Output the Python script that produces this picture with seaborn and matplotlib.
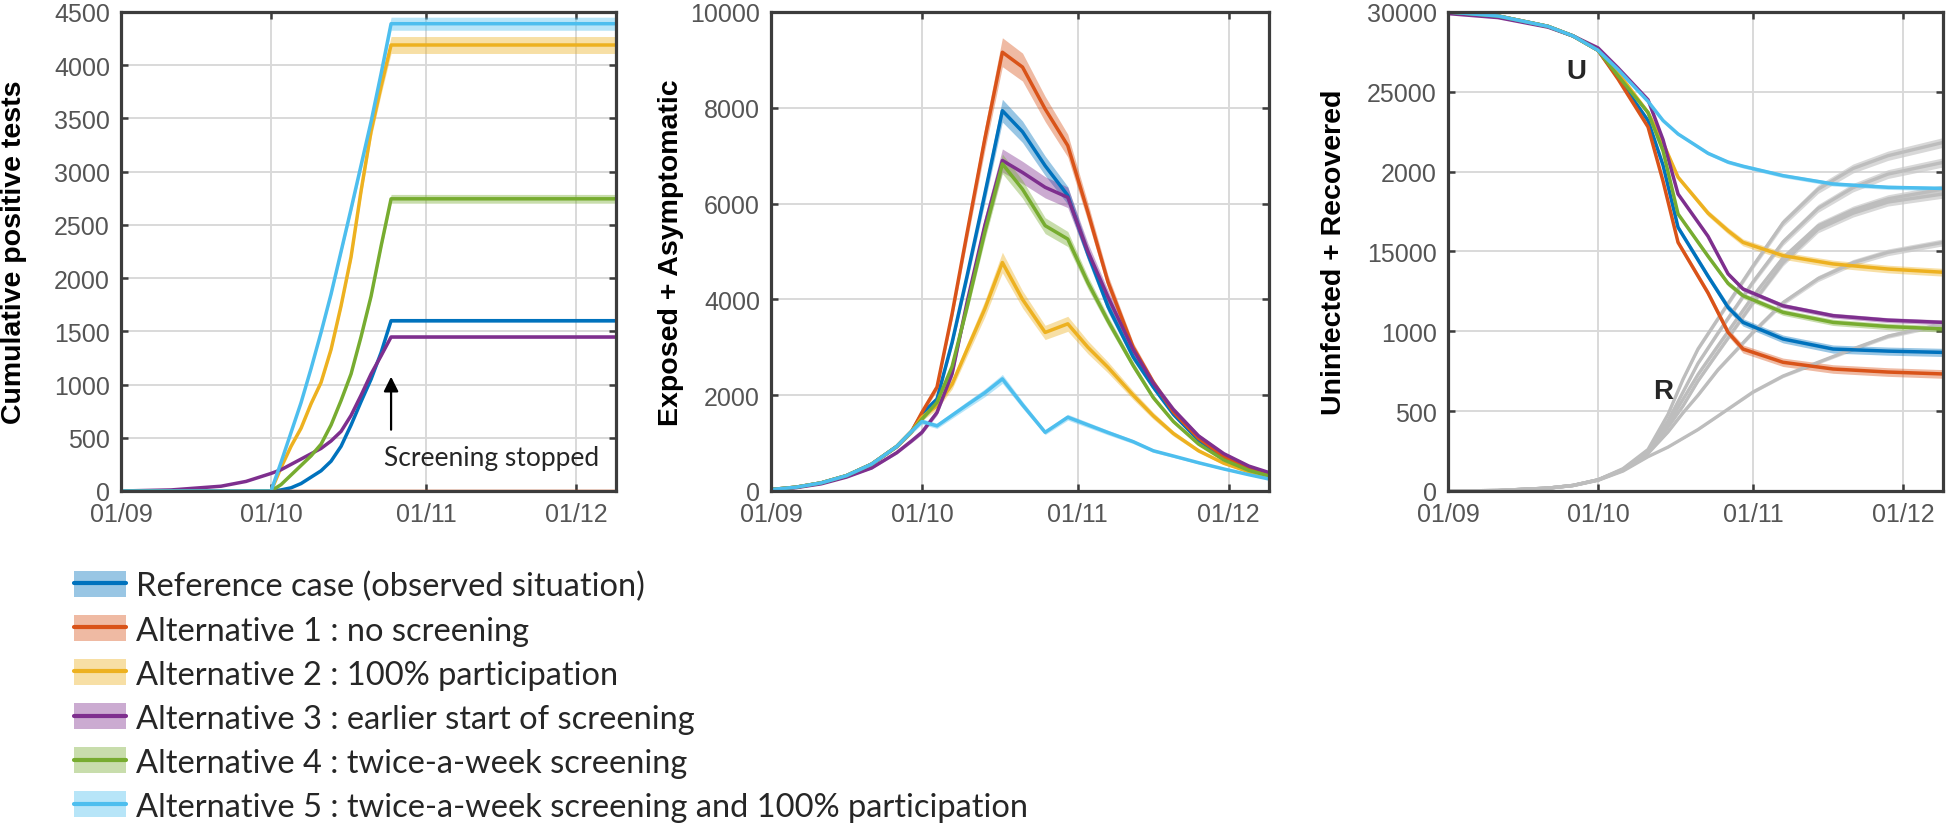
import seaborn as sns, numpy as np, pandas as pd, matplotlib.pyplot as plt
from matplotlib.patches import Patch
from matplotlib.lines import Line2D

sns.set_style('ticks')
plt.rcParams['font.family'] = ['Liberation Sans', 'DejaVu Sans']

# scenarios and colours (matlab default order)
scenarios = ['Reference case (observed situation)',
             'Alternative 1 : no screening',
             'Alternative 2 : 100% participation',
             'Alternative 3 : earlier start of screening',
             'Alternative 4 : twice-a-week screening',
             'Alternative 5 : twice-a-week screening and 100% participation']
colors = ['#0072BD', '#D95319', '#EDB120', '#7E2F8E', '#77AC30', '#4DBEEE']

date_ticks = [0, 30, 61, 91]
date_labels = ['01/09', '01/10', '01/11', '01/12']

# panel 1 : cumulative positive tests (days since 01/09)
days_tests = [0, 10, 20, 25, 30, 32, 34, 36, 38, 40, 42, 44, 46, 48, 50, 52, 54, 99]
tests_ref  = [0, 0, 0, 0, 0, 10, 30, 70, 130, 190, 280, 420, 620, 840, 1050, 1300, 1600, 1600]
tests_alt1 = [0] * 18
tests_alt2 = [0, 0, 0, 0, 0, 220, 420, 590, 820, 1020, 1330, 1740, 2200, 2820, 3380, 3800, 4190, 4190]
tests_alt3 = [0, 10, 45, 90, 165, 200, 250, 300, 350, 400, 470, 560, 710, 900, 1100, 1270, 1447, 1447]
tests_alt4 = [0, 0, 0, 0, 0, 60, 150, 240, 330, 440, 620, 850, 1100, 1450, 1830, 2300, 2745, 2745]
tests_alt5 = [0, 0, 0, 0, 0, 270, 550, 830, 1150, 1490, 1850, 2250, 2650, 3060, 3470, 3920, 4390, 4390]
tests_spread = [0.01, 0.0, 0.019, 0.01, 0.015, 0.014]

# panel 2 : exposed + asymptomatic
days_ea = [0, 5, 10, 15, 20, 25, 28, 30, 33, 36, 39, 42.5, 46, 50, 54.5, 59, 63, 67, 72, 76, 80, 85, 90, 95, 99]
ea_ref  = [30, 80, 170, 320, 560, 930, 1250, 1610, 1920, 3100, 4500, 6200, 7940, 7500, 6790, 6170, 4950, 3850, 2800, 2170, 1600, 1060, 700, 460, 330]
ea_alt1 = [30, 80, 170, 320, 560, 930, 1250, 1640, 2170, 3700, 5400, 7350, 9160, 8850, 7975, 7210, 5820, 4360, 3000, 2270, 1650, 1100, 720, 480, 350]
ea_alt2 = [30, 80, 170, 320, 560, 930, 1250, 1540, 1780, 2230, 2960, 3800, 4770, 4000, 3310, 3490, 3000, 2580, 2000, 1570, 1200, 840, 580, 400, 295]
ea_alt3 = [25, 70, 150, 290, 480, 800, 1050, 1225, 1640, 2450, 3950, 5540, 6900, 6650, 6340, 6130, 5000, 4050, 2950, 2250, 1700, 1150, 780, 520, 385]
ea_alt4 = [30, 80, 170, 320, 560, 930, 1250, 1500, 1850, 2600, 3850, 5400, 6830, 6300, 5540, 5260, 4350, 3550, 2620, 1950, 1450, 980, 650, 430, 315]
ea_alt5 = [30, 80, 170, 320, 560, 930, 1250, 1450, 1360, 1580, 1800, 2050, 2340, 1800, 1225, 1540, 1380, 1220, 1030, 840, 730, 590, 460, 340, 250]
ea_spread = [0.03, 0.033, 0.045, 0.035, 0.03, 0.04]

# panel 3 : uninfected (U, coloured) and recovered (R, grey)
days_u = [0, 10, 20, 25, 30, 34, 40, 43, 46, 52, 56, 59, 67, 77, 88, 99]
u_ref  = [30000, 29750, 29100, 28500, 27600, 25900, 23200, 20400, 16510, 13450, 11500, 10560, 9520, 8890, 8760, 8680]
u_alt1 = [30000, 29750, 29100, 28500, 27600, 25800, 22800, 19400, 15570, 12400, 9940, 8890, 8060, 7640, 7450, 7330]
u_alt2 = [30000, 29750, 29100, 28500, 27600, 26200, 23700, 21800, 19650, 17400, 16300, 15570, 14740, 14220, 13900, 13700]
u_alt3 = [29900, 29650, 29050, 28500, 27750, 26500, 24500, 22000, 18600, 15950, 13600, 12650, 11600, 10980, 10700, 10560]
u_alt4 = [30000, 29750, 29100, 28500, 27600, 26000, 23700, 21300, 17350, 14700, 13000, 12230, 11190, 10560, 10300, 10150]
u_alt5 = [30000, 29750, 29100, 28500, 27600, 26400, 24400, 23200, 22360, 21150, 20600, 20340, 19750, 19230, 19020, 18950]
u_spread = [0.012, 0.012, 0.015, 0.008, 0.01, 0.012]

days_r = [0, 10, 20, 25, 30, 35, 40, 44, 47, 50, 54, 61, 67, 74, 81, 88, 99]
r_ref  = [0, 30, 180, 350, 700, 1350, 2500, 4400, 6200, 8000, 9900, 13100, 15600, 17700, 19000, 19850, 20580]
r_alt1 = [0, 30, 180, 350, 700, 1400, 2600, 4800, 7000, 8900, 10800, 14100, 16800, 18900, 20200, 21000, 21830]
r_alt2 = [0, 30, 180, 350, 700, 1300, 2350, 3700, 4900, 6000, 7600, 9950, 11800, 13300, 14300, 14950, 15570]
r_alt3 = [0, 30, 180, 340, 680, 1300, 2400, 4000, 5330, 6900, 8700, 11800, 14300, 16400, 17400, 18100, 18600]
r_alt4 = [0, 30, 180, 350, 700, 1350, 2450, 4200, 5750, 7300, 9100, 12200, 14600, 16600, 17600, 18300, 18910]
r_alt5 = [0, 30, 180, 340, 670, 1250, 2150, 2750, 3300, 3850, 4700, 6200, 7200, 8060, 8900, 9700, 10460]
r_spread = 0.014


def long_df(days, series):
    rows = [(d, v, s) for s, vals in zip(scenarios, series) for d, v in zip(days, vals)]
    return pd.DataFrame(rows, columns=['day', 'value', 'scenario'])


def draw_panel(ax, days, series, spread, base=0):
    df = long_df(days, series)
    for vals, c, sp in zip(series, colors, spread):
        v = np.array(vals, dtype=float)
        half = sp * np.abs(v - base)
        ax.fill_between(days, v - half, v + half, color=c, alpha=0.4, lw=0)
    sns.lineplot(data=df, x='day', y='value', hue='scenario', hue_order=scenarios,
                 palette=colors, lw=2.5, legend=False, ax=ax, sort=False)


def style_axes(ax, ymax, yticks, ylabels, ylabel, labelx):
    ax.set_xlim(0, 99)
    ax.set_ylim(0, ymax)
    ax.set_xticks(date_ticks)
    ax.set_xticklabels(date_labels)
    ax.set_yticks(yticks)
    ax.set_yticklabels(ylabels)
    ax.grid(True, color='#d9d9d9', lw=1.4)
    ax.set_axisbelow(True)
    for s in ax.spines.values():
        s.set_visible(True)
        s.set_color('#3c3c3c')
        s.set_linewidth(2.3)
    ax.tick_params(direction='in', length=5, width=1.8, color='#3c3c3c', top=True, right=True,
                   labelsize=18, labelcolor='#555555', pad=8)
    ax.set_xlabel('')
    ax.set_ylabel(ylabel, fontsize=20.5, fontweight='bold', color='black')
    ax.yaxis.set_label_coords(labelx, 0.5)


fig = plt.figure(figsize=(19.46, 8.28), dpi=100)
ax1 = fig.add_axes([0.0622, 0.4058, 0.2544, 0.5785])
ax2 = fig.add_axes([0.3962, 0.4058, 0.2559, 0.5785])
ax3 = fig.add_axes([0.7441, 0.4058, 0.2544, 0.5785])

# panel 1
draw_panel(ax1, days_tests, [tests_ref, tests_alt1, tests_alt2, tests_alt3, tests_alt4, tests_alt5], tests_spread)
t1 = list(range(0, 4501, 500))
style_axes(ax1, 4500, t1, [str(t) for t in t1], 'Cumulative positive tests', -0.19)
ax1.annotate('', xy=(54, 1100), xytext=(54, 550),
             arrowprops=dict(arrowstyle='-|>', color='black', lw=1.6, mutation_scale=22))
ax1.text(74, 314, 'Screening stopped', ha='center', va='center', fontsize=19,
         family=['Lato', 'DejaVu Sans'])

# panel 2
draw_panel(ax2, days_ea, [ea_ref, ea_alt1, ea_alt2, ea_alt3, ea_alt4, ea_alt5], ea_spread)
t2 = list(range(0, 10001, 2000))
style_axes(ax2, 10000, t2, [str(t) for t in t2], 'Exposed + Asymptomatic', -0.175)

# panel 3 : grey R curves first, coloured U curves on top
for vals in [r_ref, r_alt1, r_alt2, r_alt3, r_alt4, r_alt5]:
    v = np.array(vals, dtype=float)
    ax3.fill_between(days_r, v * (1 - r_spread), v * (1 + r_spread), color='#c8c8c8', alpha=0.7, lw=0)
    sns.lineplot(x=days_r, y=vals, color='#bdbdbd', lw=2.4, ax=ax3, sort=False)
draw_panel(ax3, days_u, [u_ref, u_alt1, u_alt2, u_alt3, u_alt4, u_alt5], u_spread, base=30000)
u_ticks = [0, 5000, 10000, 15000, 20000, 25000, 30000]
u_ticklabels = ['0', '500', '1000', '15000', '2000', '25000', '30000']
style_axes(ax3, 30000, u_ticks, u_ticklabels, 'Uninfected + Recovered', -0.205)
ax3.text(25.7, 26330, 'U', fontsize=20, fontweight='bold', ha='center', va='center')
ax3.text(43, 6280, 'R', fontsize=20, fontweight='bold', ha='center', va='center')

# legend
handles = [(Patch(facecolor=c, alpha=0.4, lw=0), Line2D([], [], color=c, lw=3)) for c in colors]
fig.legend(handles, scenarios, loc='upper left', bbox_to_anchor=(0.038, 0.309), frameon=False,
           prop={'family': ['Lato', 'DejaVu Sans'], 'size': 23.5},
           handlelength=1.6, handleheight=0.85, handletextpad=0.3, labelspacing=0.42,
           borderpad=0, borderaxespad=0)

fig.savefig('out.png', dpi=100)
